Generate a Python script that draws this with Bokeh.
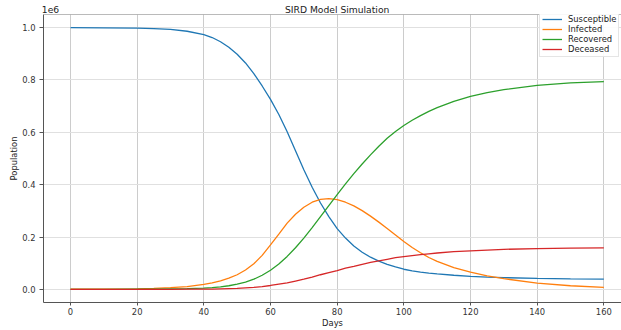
from bokeh.plotting import figure
from bokeh.models import (Range1d, ColumnDataSource, Legend, LegendItem, Span, FixedTicker,
                          LinearAxis)
from bokeh.embed import file_html
from bokeh.resources import INLINE

# Data (population in millions)
days = [0, 10, 20, 25, 30, 35, 40, 42.5, 45, 47.5, 50, 52.5, 55, 57.5, 60, 62.5, 65, 67.5,
        70, 72.5, 75, 77.5, 80, 82.5, 85, 87.5, 90, 92.5, 95, 97.5, 100, 102.5, 105, 107.5,
        110, 115, 120, 125, 130, 140, 150, 160]
susceptible = [1.0, 0.999, 0.998, 0.996, 0.993, 0.986, 0.973, 0.962, 0.946, 0.925, 0.898,
               0.865, 0.824, 0.777, 0.726, 0.668, 0.602, 0.530, 0.457, 0.390, 0.330, 0.278,
               0.232, 0.196, 0.166, 0.142, 0.123, 0.108, 0.096, 0.086, 0.077, 0.071, 0.066,
               0.062, 0.059, 0.054, 0.050, 0.047, 0.045, 0.042, 0.040, 0.039]
infected = [0.001, 0.001, 0.0023, 0.004, 0.0065, 0.011, 0.019, 0.025, 0.033, 0.043, 0.056,
            0.074, 0.098, 0.130, 0.170, 0.211, 0.253, 0.287, 0.314, 0.333, 0.344, 0.347,
            0.343, 0.333, 0.319, 0.301, 0.280, 0.257, 0.233, 0.208, 0.183, 0.160, 0.140,
            0.122, 0.107, 0.083, 0.066, 0.052, 0.041, 0.024, 0.014, 0.008]
recovered = [0.0, 0.0, 0.001, 0.001, 0.002, 0.003, 0.005, 0.007, 0.010, 0.014, 0.020,
             0.028, 0.039, 0.054, 0.073, 0.097, 0.126, 0.159, 0.196, 0.236, 0.278, 0.320,
             0.362, 0.403, 0.442, 0.479, 0.514, 0.547, 0.577, 0.603, 0.626, 0.646, 0.664,
             0.680, 0.694, 0.718, 0.737, 0.752, 0.763, 0.779, 0.789, 0.794]
deceased = [0.0, 0.0, 0.0, 0.0, 0.0, 0.001, 0.001, 0.001, 0.002, 0.003, 0.004, 0.006,
            0.008, 0.011, 0.015, 0.020, 0.025, 0.032, 0.039, 0.047, 0.056, 0.064, 0.072,
            0.081, 0.088, 0.096, 0.103, 0.109, 0.115, 0.121, 0.125, 0.129, 0.133, 0.136,
            0.139, 0.144, 0.147, 0.150, 0.153, 0.156, 0.158, 0.159]
series_names = ["Susceptible", "Infected", "Recovered", "Deceased"]
series_colors = ["#1f77b4", "#ff7f0e", "#2ca02c", "#d62728"]
x_ticks = [0, 20, 40, 60, 80, 100, 120, 140, 160]
y_ticks = [0.0, 0.2, 0.4, 0.6, 0.8, 1.0]
title_text = "SIRD Model Simulation"
offset_text = "1e6"

FONT = "DejaVu Sans"

p = figure(width=621, height=330, output_backend="svg", toolbar_location=None,
           x_range=Range1d(-8.1, 165.3), y_range=Range1d(-0.05, 1.05),
           min_border_left=43, min_border_right=0, min_border_top=12, min_border_bottom=26)
p.outline_line_color = None
p.background_fill_color = "white"
p.border_fill_color = "white"

src = ColumnDataSource(dict(days=days, S=susceptible, I=infected, R=recovered, D=deceased))
renderers = []
for key, name, color in zip(["S", "I", "R", "D"], series_names, series_colors):
    r = p.line("days", key, source=src, line_color=color, line_width=1.3)
    renderers.append((name, r))

# grid
p.xgrid.grid_line_color = "#cccccc"
p.ygrid.grid_line_color = "#e0e0e0"
p.xgrid.grid_line_width = 1
p.ygrid.grid_line_width = 1.2
p.xgrid.ticker = FixedTicker(ticks=x_ticks)
p.ygrid.ticker = FixedTicker(ticks=y_ticks)

# axes
xax = p.xaxis[0]
yax = p.yaxis[0]
for ax in (xax, yax):
    ax.axis_line_color = "#555555"
    ax.axis_line_width = 1
    ax.major_tick_line_color = "#555555"
    ax.major_tick_out = 4
    ax.major_tick_in = 0
    ax.minor_tick_line_color = None
    ax.major_label_text_font = FONT
    ax.major_label_text_font_size = "8.4px"
    ax.major_label_text_color = "#333333"
    ax.axis_label_text_font = FONT
    ax.axis_label_text_font_size = "8.4px"
    ax.axis_label_text_font_style = "normal"
    ax.axis_label_text_color = "#222222"

xax.ticker = FixedTicker(ticks=x_ticks)
yax.ticker = FixedTicker(ticks=y_ticks)
xax.major_label_overrides = {t: str(t) for t in x_ticks}
yax.major_label_overrides = {t: f"{t:.1f}" for t in y_ticks}
xax.major_tick_out = 3
xax.major_label_standoff = 2
yax.major_label_standoff = 4
xax.axis_label = "Days"
xax.axis_label_standoff = 0
yax.axis_label = "Population"
yax.axis_label_standoff = 0

# top: title and offset text as labels of an unlined axis above the frame
top_ax = LinearAxis(ticker=FixedTicker(ticks=[-6, 80]),
                    major_label_overrides={-6: offset_text, 80: title_text},
                    axis_line_color=None, major_tick_line_color=None,
                    minor_tick_line_color=None, major_tick_out=0, major_tick_in=0,
                    minor_tick_out=0, minor_tick_in=0, major_label_standoff=0,
                    major_label_text_font=FONT, major_label_text_font_size="9.2px",
                    major_label_text_color="#222222")
p.add_layout(top_ax, "above")

# top spine
p.add_layout(Span(location=1.05, dimension="width", line_color="#777777", line_width=1))

legend = Legend(items=[LegendItem(label=n, renderers=[r]) for n, r in renderers],
                location=(496, 245))
legend.label_text_font = FONT
legend.label_text_font_size = "8.4px"
legend.label_text_color = "#222222"
legend.label_height = 10
legend.glyph_height = 10
legend.glyph_width = 20
legend.spacing = 0
legend.padding = 2
legend.margin = 0
legend.label_standoff = 6
legend.border_line_color = "#cccccc"
legend.background_fill_alpha = 0.9
p.add_layout(legend)

open("out.html", "w").write(file_html(p, INLINE))
